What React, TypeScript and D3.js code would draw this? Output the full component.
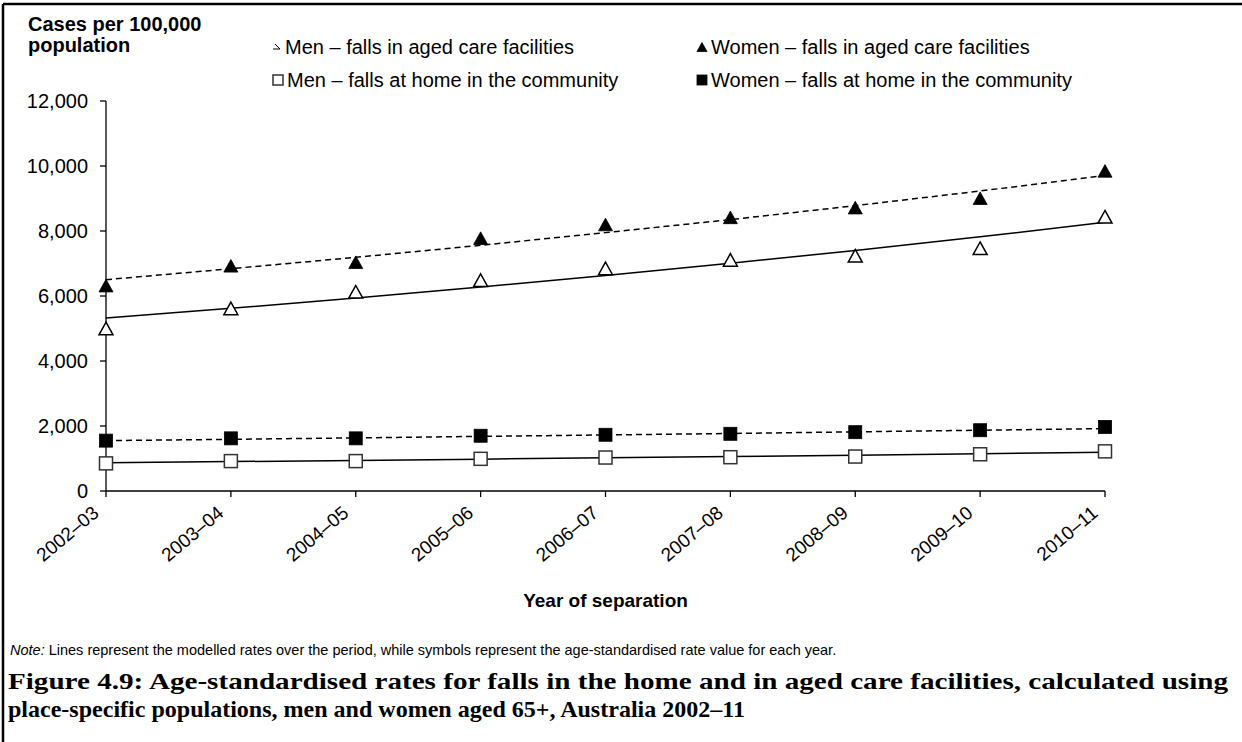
import React from 'react';
import * as d3 from 'd3';

const categories = ['2002–03', '2003–04', '2004–05', '2005–06', '2006–07', '2007–08', '2008–09', '2009–10', '2010–11'];

// Symbols: age-standardised rate for each year
const menAgedCare = [4980, 5600, 6110, 6470, 6830, 7090, 7220, 7450, 8420];
const womenAgedCare = [6300, 6910, 7020, 7760, 8180, 8400, 8700, 8990, 9830];
const menHome = [850, 920, 920, 990, 1030, 1040, 1060, 1130, 1220];
const womenHome = [1550, 1620, 1620, 1700, 1730, 1760, 1810, 1870, 1970];

// Lines: modelled rates over the period
const menAgedCareModel = [5320, 5620, 5940, 6280, 6630, 7010, 7400, 7820, 8270];
const womenAgedCareModel = [6500, 6840, 7190, 7560, 7950, 8350, 8780, 9230, 9710];
const menHomeModel = [870, 905, 940, 980, 1020, 1060, 1100, 1145, 1190];
const womenHomeModel = [1550, 1590, 1635, 1680, 1725, 1770, 1820, 1870, 1920];

const yTicks = [0, 2000, 4000, 6000, 8000, 10000, 12000];

const W = 1242;
const H = 742;
const SANS = '"Liberation Sans", Arial, sans-serif';
const SERIF = '"Liberation Serif", "DejaVu Serif", serif';

function Triangle({ x, y, filled, size = 14 }: { x: number; y: number; filled: boolean; size?: number }) {
  const h = size * 0.9;
  const d = `M${x},${y - h * 0.55} L${x + size / 2},${y + h * 0.45} L${x - size / 2},${y + h * 0.45} Z`;
  return <path d={d} fill={filled ? '#000' : '#fff'} stroke="#000" strokeWidth={filled ? 0.8 : 1.5} />;
}

function Square({ x, y, filled, size = 13 }: { x: number; y: number; filled: boolean; size?: number }) {
  return (
    <rect
      x={x - size / 2}
      y={y - size / 2}
      width={size}
      height={size}
      fill={filled ? '#000' : '#fff'}
      stroke={filled ? '#000' : '#333'}
      strokeWidth={filled ? 0.8 : 1.5}
    />
  );
}

export default function App() {
  const x = d3.scalePoint<string>().domain(categories).range([106, 1105]);
  const y = d3.scaleLinear().domain([0, 12000]).range([491, 101]);
  const line = d3
    .line<number>()
    .x((_, i) => x(categories[i]) as number)
    .y((d) => y(d));

  const x0 = x(categories[0]) as number;
  const x1 = x(categories[categories.length - 1]) as number;
  const yBase = y(0);

  const legendItems = [
    { label: 'Men – falls in aged care facilities', mx: 277, tx: 285, my: 47, kind: 'menAged' },
    { label: 'Women – falls in aged care facilities', mx: 702, tx: 711, my: 47, kind: 'womenAged' },
    { label: 'Men – falls at home in the community', mx: 278, tx: 287, my: 80, kind: 'menHome' },
    { label: 'Women – falls at home in the community', mx: 702, tx: 711, my: 80, kind: 'womenHome' },
  ];

  return (
    <svg width={W} height={H} style={{ position: 'absolute', left: 0, top: 0, background: '#fff' }}>
      <rect x={0} y={0} width={W} height={H} fill="#fff" />
      {/* frame */}
      <line x1={3} y1={4} x2={W + 5} y2={4} stroke="#000" strokeWidth={2.5} />
      <line x1={3} y1={4} x2={3} y2={H + 5} stroke="#000" strokeWidth={2.5} />

      {/* y axis title */}
      <text x={28} y={31} fontFamily={SANS} fontSize={20} fontWeight="bold">Cases per 100,000</text>
      <text x={28} y={52} fontFamily={SANS} fontSize={20} fontWeight="bold">population</text>

      {/* legend */}
      {legendItems.map((it) => (
        <g key={it.label}>
          {it.kind === 'menAged' && (
            <path
              d={`M${it.mx - 2},${it.my - 3} L${it.mx + 3},${it.my + 2} L${it.mx - 4},${it.my + 2}`}
              fill="none"
              stroke="#000"
              strokeWidth={1}
            />
          )}
          {it.kind === 'womenAged' && <Triangle x={it.mx} y={it.my + 0.5} filled={true} size={10} />}
          {it.kind === 'menHome' && <Square x={it.mx} y={it.my} filled={false} size={10} />}
          {it.kind === 'womenHome' && <Square x={it.mx} y={it.my} filled={true} size={10} />}
          <text x={it.tx} y={it.my + 7} fontFamily={SANS} fontSize={20}>{it.label}</text>
        </g>
      ))}

      {/* y axis */}
      <line x1={x0} y1={y(12000)} x2={x0} y2={yBase} stroke="#000" strokeWidth={1.3} />
      {yTicks.map((t) => (
        <g key={t}>
          <line x1={x0 - 6} y1={y(t)} x2={x0} y2={y(t)} stroke="#000" strokeWidth={1.3} />
          <text x={88} y={y(t)} dy="0.35em" textAnchor="end" fontFamily={SANS} fontSize={20}>
            {d3.format(',')(t)}
          </text>
        </g>
      ))}

      {/* x axis */}
      <line x1={x0} y1={yBase} x2={x1} y2={yBase} stroke="#000" strokeWidth={1.3} />
      {categories.map((c) => {
        const cx = x(c) as number;
        return (
          <g key={c}>
            <line x1={cx} y1={yBase} x2={cx} y2={yBase + 6} stroke="#000" strokeWidth={1.3} />
            <text
              transform={`translate(${cx - 6},${yBase + 24}) rotate(-40)`}
              textAnchor="end"
              fontFamily={SANS}
              fontSize={19}
            >
              {c}
            </text>
          </g>
        );
      })}
      <text x={(x0 + x1) / 2} y={607} textAnchor="middle" fontFamily={SANS} fontSize={19} fontWeight="bold">
        Year of separation
      </text>

      {/* modelled lines */}
      <path d={line(womenAgedCareModel) || ''} fill="none" stroke="#000" strokeWidth={1.5} strokeDasharray="6,4" />
      <path d={line(menAgedCareModel) || ''} fill="none" stroke="#000" strokeWidth={1.5} />
      <path d={line(womenHomeModel) || ''} fill="none" stroke="#000" strokeWidth={1.5} strokeDasharray="6,4" />
      <path d={line(menHomeModel) || ''} fill="none" stroke="#000" strokeWidth={1.5} />

      {/* symbols */}
      {menAgedCare.map((v, i) => (
        <Triangle key={'ma' + i} x={x(categories[i]) as number} y={y(v)} filled={false} />
      ))}
      {womenAgedCare.map((v, i) => (
        <Triangle key={'wa' + i} x={x(categories[i]) as number} y={y(v)} filled={true} />
      ))}
      {menHome.map((v, i) => (
        <Square key={'mh' + i} x={x(categories[i]) as number} y={y(v)} filled={false} />
      ))}
      {womenHome.map((v, i) => (
        <Square key={'wh' + i} x={x(categories[i]) as number} y={y(v)} filled={true} />
      ))}

      {/* note */}
      <text x={10} y={655} fontFamily={SANS} fontSize={14.5}>
        <tspan fontStyle="italic">Note:</tspan> Lines represent the modelled rates over the period, while symbols represent the age-standardised rate value for each year.
      </text>

      {/* caption */}
      <text x={8} y={689} fontFamily={SERIF} fontSize={24} fontWeight="bold" textLength={1220} lengthAdjust="spacingAndGlyphs">
        Figure 4.9: Age-standardised rates for falls in the home and in aged care facilities, calculated using
      </text>
      <text x={8} y={717} fontFamily={SERIF} fontSize={24} fontWeight="bold" textLength={737} lengthAdjust="spacingAndGlyphs">
        place-specific populations, men and women aged 65+, Australia 2002–11
      </text>
    </svg>
  );
}
